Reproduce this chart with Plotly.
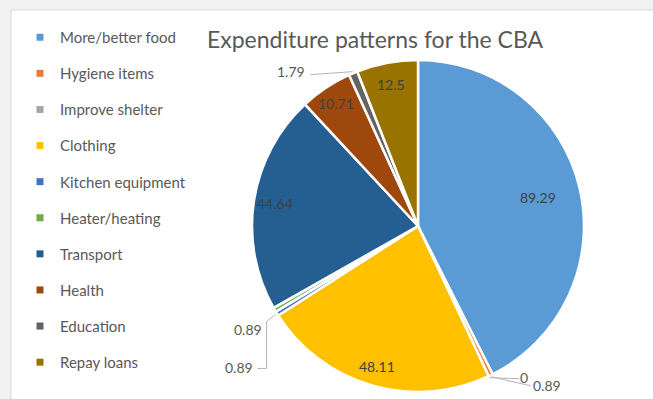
import numpy as np
import plotly.graph_objects as go

# ---------------- data ----------------
categories = ["More/better food", "Hygiene items", "Improve shelter", "Clothing",
              "Kitchen equipment", "Heater/heating", "Transport", "Health",
              "Education", "Repay loans"]
values = [89.29, 0.89, 0, 48.11, 0.89, 0.89, 44.64, 10.71, 1.79, 12.5]
value_labels = ["89.29", "0.89", "0", "48.11", "0.89", "0.89", "44.64", "10.71", "1.79", "12.5"]
title_text = "Expenditure patterns for the CBA"

# ---------------- style ----------------
colors = ["#5B9BD5", "#ED7D31", "#A5A5A5", "#FFC000", "#4472C4", "#70AD47",
          "#255E91", "#9E480E", "#636363", "#997300"]
W, H = 653, 399
CX, CY, R = 418, 226, 166          # pie centre / radius in pixels
FONT = "Lato"
# inside labels: radial fraction of radius
inside_r = {0: 0.74, 3: 0.88, 6: 0.87, 7: 0.89, 9: 0.87}
# outside labels: text offset from slice edge point, and leader waypoints (relative)
outside = {
    1: dict(text=(56, 9), leader=[(39, 9)]),
    2: dict(text=(35, 0), leader=[(30, 1)]),
    4: dict(text=(-37, 53), leader=[(-9, 7), (-9, 54), (-18, 54)]),
    5: dict(text=(-25, 19), leader=[]),
    8: dict(text=(-62, 0), leader=[(-42, 3)]),
}


def px2paper(x, y):
    return x / W, 1 - y / H


vals = np.array(values, dtype=float)
total = vals.sum()
cum = np.cumsum(vals)
mid_deg = (cum - vals / 2) / total * 360.0
mid_rad = np.deg2rad(mid_deg)

fig = go.Figure()

fig.add_trace(go.Pie(
    labels=categories, values=values, sort=False, direction="clockwise",
    rotation=0, textinfo="none", hoverinfo="label+value",
    marker=dict(colors=colors, line=dict(color="white", width=2.5)),
    domain=dict(x=[(CX - R) / W, (CX + R) / W], y=[1 - (CY + R) / H, 1 - (CY - R) / H]),
    showlegend=False,
))

# legend via proxy markers (one group each so spacing can be set)
for cat, col in zip(categories, colors):
    fig.add_trace(go.Scatter(x=[None], y=[None], mode="markers", name=cat,
                             legendgroup=cat, showlegend=True,
                             marker=dict(symbol="square", size=7, color=col)))

annotations = []
shapes = [
    dict(type="rect", xref="paper", yref="paper", x0=11 / W, x1=1.02, y0=-0.02, y1=1 - 10 / H,
         fillcolor="white", line=dict(color="#d9d9d9", width=1), layer="below"),
]

for i, lab in enumerate(value_labels):
    s, c = np.sin(mid_rad[i]), np.cos(mid_rad[i])
    if i in inside_r:
        f = inside_r[i]
        x, y = px2paper(CX + f * R * s, CY - f * R * c)
        annotations.append(dict(x=x, y=y, xref="paper", yref="paper", text=lab, showarrow=False,
                                xanchor="center", yanchor="middle",
                                font=dict(family=FONT, size=14, color="#404040")))
    elif i in outside:
        ex, ey = CX + 1.01 * R * s, CY - 1.01 * R * c
        tdx, tdy = outside[i]["text"]
        x, y = px2paper(ex + tdx, ey + tdy)
        annotations.append(dict(x=x, y=y, xref="paper", yref="paper", text=lab, showarrow=False,
                                xanchor="center", yanchor="middle",
                                font=dict(family=FONT, size=14, color="#595959")))
        pts = [(ex, ey)] + [(ex + dx, ey + dy) for dx, dy in outside[i]["leader"]]
        if len(pts) > 1:
            path = ""
            for k, (px, py) in enumerate(pts):
                qx, qy = px2paper(px, py)
                path += ("M" if k == 0 else "L") + f"{qx:.5f},{qy:.5f} "
            shapes.append(dict(type="path", xref="paper", yref="paper", path=path.strip(),
                               line=dict(color="#b4b4b4", width=1)))

fig.update_layout(
    width=W, height=H, margin=dict(l=0, r=0, t=0, b=0),
    paper_bgcolor="#f2f2f2", plot_bgcolor="rgba(0,0,0,0)",
    xaxis=dict(visible=False), yaxis=dict(visible=False),
    title=dict(text=title_text, x=375 / W, y=1 - 40 / H, xanchor="center", yanchor="middle",
               font=dict(family=FONT, size=23, color="#595959")),
    legend=dict(x=20 / W, y=1 - 21 / H, xanchor="left", yanchor="top",
                font=dict(family=FONT, size=15, color="#595959"),
                tracegroupgap=13.6, itemwidth=30, bgcolor="rgba(0,0,0,0)"),
    annotations=annotations, shapes=shapes,
)

fig.write_html("out.html")
